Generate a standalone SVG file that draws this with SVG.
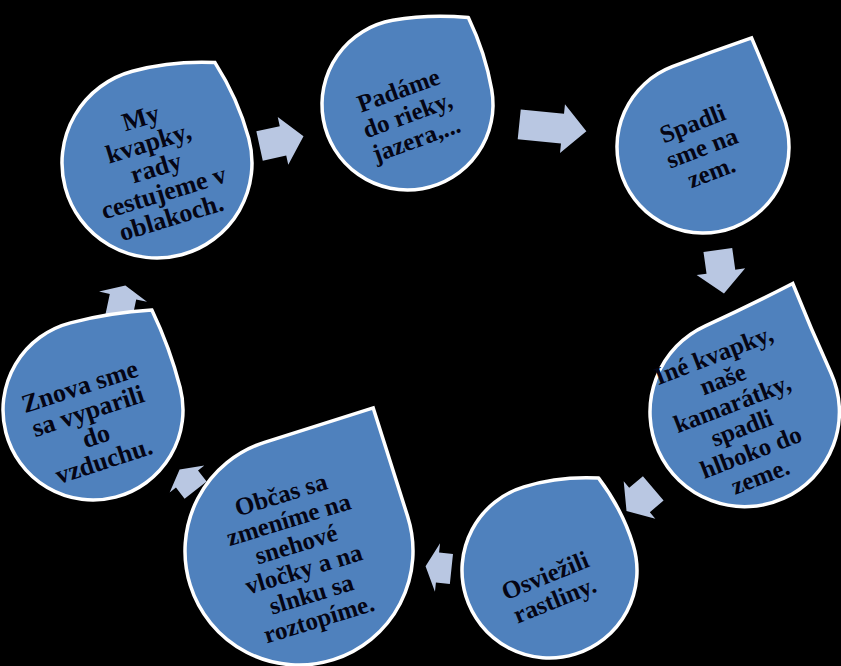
<svg xmlns="http://www.w3.org/2000/svg" width="841" height="666" viewBox="0 0 841 666">
<style>
.drop{fill:#4F81BD;stroke:#FFFFFF;stroke-width:3.5}
.arr{fill:#B9C7E2;stroke:none}
text{font-family:"Liberation Serif","Times New Roman",serif;font-weight:bold;font-size:25px;fill:#050514;text-anchor:middle}
.big{font-size:26px}
</style>
<rect x="0" y="0" width="841" height="666" fill="#000000"/>
<g id="connectors">
<polygon class="arr" transform="translate(283,140.85) rotate(-12.4)" points="-24,-15 0,-15 0,-24.5 21,0 0,24.5 0,15 -24,15"/>
<polygon class="arr" transform="translate(562.5,128.7) rotate(5.8)" points="-43.5,-15 0,-15 0,-24.5 24,0 0,24.5 0,15 -43.5,15"/>
<polygon class="arr" transform="translate(720.9,271.7) rotate(82)" points="-22,-14.5 0,-14.5 0,-24.5 22,0 0,24.5 0,14.5 -22,14.5"/>
<polygon class="arr" transform="translate(639.5,500) rotate(139.8)" points="-18,-16 0,-16 0,-24.5 17,0 0,24.5 0,16 -18,16"/>
<polygon class="arr" transform="translate(437.5,567.5) rotate(186)" points="-14,-15 0,-15 0,-24.5 12,0 0,24.5 0,15 -14,15"/>
<polygon class="arr" transform="translate(187,479) rotate(-128)" points="-14,-14 0,-14 0,-22 12,0 0,22 0,14 -14,14"/>
<polygon class="arr" transform="translate(123,296.7) rotate(-78)" points="-23,-13.5 0,-13.5 0,-24.5 11.5,0 0,24.5 0,13.5 -23,13.5"/>
</g>
<g id="node1">
<path class="drop" transform="translate(157,163) rotate(-15)" d="M-95,0 A95,95 0 0 1 0,-95 Q41,-95 82,-82 Q95,-41 95,0 A95,95 0 0 1 0,95 A95,95 0 0 1 -95,0 Z"/>
<text class="big" transform="translate(157,171) rotate(-17)"><tspan x="0" y="-47">My</tspan><tspan x="0" y="-21">kvapky,</tspan><tspan x="0" y="5">rady</tspan><tspan x="0" y="31">cestujeme v</tspan><tspan x="0" y="57">oblakoch.</tspan></text>
</g>
<g id="node2">
<path class="drop" transform="translate(407.5,104.5) rotate(-10)" d="M-85.5,0 A85.5,85.5 0 0 1 0,-85.5 Q37.5,-85.5 75,-75 Q85.5,-37.5 85.5,0 A85.5,85.5 0 0 1 0,85.5 A85.5,85.5 0 0 1 -85.5,0 Z"/>
<text transform="translate(407.5,115) rotate(-20)"><tspan x="0" y="-18">Padáme</tspan><tspan x="0" y="8">do rieky,</tspan><tspan x="0" y="34">jazera,...</tspan></text>
</g>
<g id="node3">
<path class="drop" transform="translate(703,147) rotate(-21)" d="M-86,0 A86,86 0 0 1 0,-86 Q42,-86 84.5,-84.5 Q86,-42 86,0 A86,86 0 0 1 0,86 A86,86 0 0 1 -86,0 Z"/>
<text transform="translate(702,148) rotate(-21)"><tspan x="0" y="-18">Spadli</tspan><tspan x="0" y="8">sme na</tspan><tspan x="0" y="34">zem.</tspan></text>
</g>
<g id="node4">
<path class="drop" transform="translate(744.7,412) rotate(-24.5)" d="M-94.7,0 A94.7,94.7 0 0 1 0,-94.7 Q48.5,-94.7 97,-97 Q94.7,-48.5 94.7,0 A94.7,94.7 0 0 1 0,94.7 A94.7,94.7 0 0 1 -94.7,0 Z"/>
<text transform="translate(737,416) rotate(-21)"><tspan x="0" y="-57">Iné kvapky,</tspan><tspan x="0" y="-31">naše</tspan><tspan x="0" y="-5">kamarátky,</tspan><tspan x="0" y="21">spadli</tspan><tspan x="0" y="47">hlboko do</tspan><tspan x="0" y="73">zeme.</tspan></text>
</g>
<g id="node5">
<path class="drop" transform="translate(549.5,570.5) rotate(-17)" d="M-87.5,0 A87.5,87.5 0 0 1 0,-87.5 Q37,-87.5 74,-74 Q87.5,-37 87.5,0 A87.5,87.5 0 0 1 0,87.5 A87.5,87.5 0 0 1 -87.5,0 Z"/>
<text transform="translate(550,588) rotate(-22)"><tspan x="0" y="-5">Osviežili</tspan><tspan x="0" y="21">rastliny.</tspan></text>
</g>
<g id="node6">
<path class="drop" transform="translate(299,551) rotate(-17.6)" d="M-114,0 A114,114 0 0 1 0,-114 Q57,-114 114,-114 Q114,-57 114,0 A114,114 0 0 1 0,114 A114,114 0 0 1 -114,0 Z"/>
<text transform="translate(300,557) rotate(-17)"><tspan x="0" y="-57">Občas sa</tspan><tspan x="0" y="-31">zmeníme na</tspan><tspan x="0" y="-5">snehové</tspan><tspan x="0" y="21">vločky a na</tspan><tspan x="0" y="47">slnku sa</tspan><tspan x="0" y="73">roztopíme.</tspan></text>
</g>
<g id="node7">
<path class="drop" transform="translate(93,410) rotate(-14.5)" d="M-90,0 A90,90 0 0 1 0,-90 Q41,-90 82,-82 Q90,-41 90,0 A90,90 0 0 1 0,90 A90,90 0 0 1 -90,0 Z"/>
<text class="big" transform="translate(92,424) rotate(-18)"><tspan x="0" y="-31">Znova sme</tspan><tspan x="0" y="-5">sa vyparili</tspan><tspan x="0" y="21">do</tspan><tspan x="0" y="47">vzduchu.</tspan></text>
</g>
</svg>
